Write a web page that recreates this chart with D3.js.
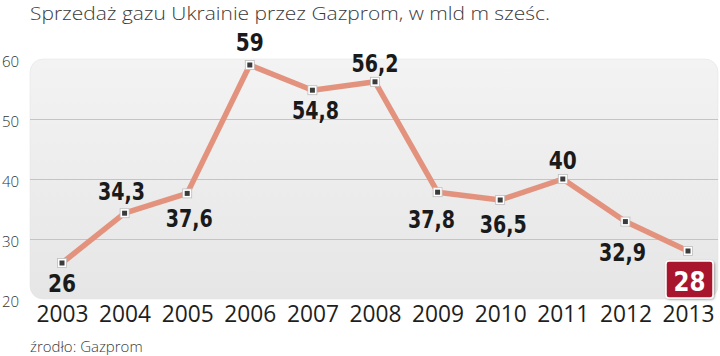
<!DOCTYPE html>
<html><head><meta charset="utf-8">
<script src="https://cdn.jsdelivr.net/npm/d3@7"></script>
<style>
body{margin:0;background:#fff;}
svg{display:block;}
</style></head>
<body>
<svg id="c" width="720" height="356"></svg>
<script>
const title = "Sprzedaż gazu Ukrainie przez Gazprom, w mld m sześc.";
const source = "źrodło: Gazprom";
const years = ["2003","2004","2005","2006","2007","2008","2009","2010","2011","2012","2013"];
const values = [26, 34.3, 37.6, 59, 54.8, 56.2, 37.8, 36.5, 40, 32.9, 28];
const yTicks = [20, 30, 40, 50, 60];

const svg = d3.select("#c");
const panel = {x0: 30, x1: 718, y0: 59, y1: 299};

const x = d3.scalePoint().domain(years).range([62, 688]);
const y = d3.scaleLinear().domain([20, 60]).range([panel.y1, panel.y0]);

const defs = svg.append("defs");
const g1 = defs.append("linearGradient").attr("id","pg").attr("x1",0).attr("y1",0).attr("x2",0).attr("y2",1);
g1.append("stop").attr("offset","0%").attr("stop-color","#f3f3f3");
g1.append("stop").attr("offset","100%").attr("stop-color","#e6e6e6");
const f = defs.append("filter").attr("id","sh").attr("x","-20%").attr("y","-20%").attr("width","150%").attr("height","150%");
f.append("feDropShadow").attr("dx",1).attr("dy",1).attr("stdDeviation",1).attr("flood-color","#000").attr("flood-opacity",0.35);

// title
svg.append("text").attr("x", 30).attr("y", 20)
  .attr("font-family","'Open Sans', sans-serif").attr("font-weight",300)
  .attr("font-size",19).attr("fill","#3a3a3a").attr("textLength",520).attr("lengthAdjust","spacingAndGlyphs")
  .text(title);

// panel
svg.append("rect").attr("x", panel.x0).attr("y", panel.y0)
  .attr("width", panel.x1 - panel.x0).attr("height", panel.y1 - panel.y0)
  .attr("rx", 13).attr("fill","url(#pg)").attr("stroke","#e0e0e0").attr("stroke-width",0.5);

// gridlines
svg.append("g").selectAll("line").data(yTicks.filter(d => d > 20 && d < 60)).join("line")
  .attr("x1", panel.x0).attr("x2", panel.x1)
  .attr("y1", d => Math.round(y(d)) + 0.5).attr("y2", d => Math.round(y(d)) + 0.5)
  .attr("stroke","#c4c4c4").attr("stroke-width",1);

// y axis labels
const yAxis = d3.axisLeft(y).tickValues(yTicks).tickSize(0).tickPadding(0);
const ya = svg.append("g").attr("transform","translate(19,3)").call(yAxis);
ya.select(".domain").remove();
ya.selectAll("text").attr("font-family","'Open Sans', sans-serif").attr("font-weight",300)
  .attr("font-size",15).attr("fill","#333");

// x axis labels
const xAxis = d3.axisBottom(x).tickSize(0).tickPadding(0);
const xa = svg.append("g").attr("transform","translate(0,303)").call(xAxis);
xa.select(".domain").remove();
xa.selectAll("text").attr("font-family","'Open Sans', sans-serif").attr("font-weight",400)
  .attr("font-size",24).attr("fill","#1e1e1e").attr("dy","0.78em")
  .attr("textLength",52).attr("lengthAdjust","spacingAndGlyphs");

// line
const line = d3.line().x((d,i) => x(years[i])).y(d => y(d));
svg.append("path").datum(values).attr("d", line)
  .attr("fill","none").attr("stroke","#e3937d").attr("stroke-width",5.5).attr("stroke-linejoin","round");

// markers
const mk = svg.append("g").selectAll("g").data(values).join("g")
  .attr("transform",(d,i) => `translate(${x(years[i])},${y(d)})`);
mk.append("rect").attr("x",-4.5).attr("y",-4.5).attr("width",9).attr("height",9)
  .attr("fill","#fff").attr("stroke","#bdbdbd").attr("stroke-width",0.8);
mk.append("rect").attr("x",-2.5).attr("y",-2.5).attr("width",5).attr("height",5).attr("fill","#3b3b3b");

// value labels
const place = {"2003":[0,29],"2004":[-3,-13],"2005":[2,34],"2006":[0,-14],"2007":[3,29],"2008":[0,-10],
  "2009":[-6,36],"2010":[3,33],"2011":[0,-10],"2012":[-3,39]};
const fmt = v => String(v).replace(".", ",");
const lbl = svg.append("g").selectAll("text").data(values.slice(0, values.length - 1)).join("text")
  .attr("x",(d,i) => x(years[i]) + place[years[i]][0])
  .attr("y",(d,i) => y(d) + place[years[i]][1])
  .attr("text-anchor","middle")
  .attr("font-family","'DejaVu Sans Condensed','Liberation Sans Narrow', sans-serif")
  .attr("font-weight",700).attr("font-stretch","condensed")
  .attr("font-size",25).attr("fill","#1a1a1a")
  .text(d => fmt(d));
lbl.each(function(){ const t=d3.select(this); const n=t.text().length; t.attr("textLength", n===2?28:47).attr("lengthAdjust","spacingAndGlyphs"); });

// last value box
const lastI = values.length - 1;
const lx = x(years[lastI]), ly = y(values[lastI]);
svg.append("rect").attr("x", lx - 22).attr("y", ly + 10).attr("width", 47).attr("height", 37).attr("rx",3)
  .attr("fill","#a8172d").attr("stroke","#fff").attr("stroke-width",1.5).attr("filter","url(#sh)");
svg.append("text").attr("x", lx + 1.5).attr("y", ly + 40).attr("text-anchor","middle")
  .attr("font-family","'DejaVu Sans Condensed','Liberation Sans Narrow', sans-serif")
  .attr("font-weight",700).attr("font-size",27).attr("fill","#fff")
  .attr("textLength",32).attr("lengthAdjust","spacingAndGlyphs")
  .text(fmt(values[lastI]));

// source
svg.append("text").attr("x", 30).attr("y", 352)
  .attr("font-family","'Open Sans', sans-serif").attr("font-weight",300)
  .attr("font-size",15).attr("fill","#3a3a3a").text(source);
</script>
</body></html>
